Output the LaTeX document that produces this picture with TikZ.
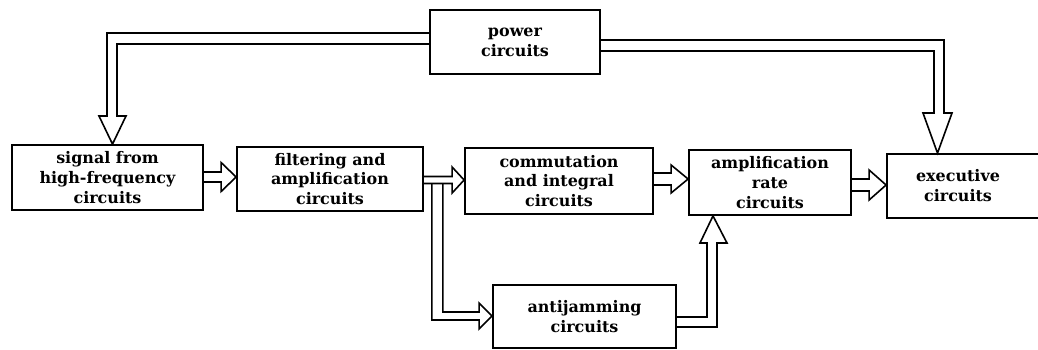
\documentclass[tikz,border=0pt]{standalone}
\usepackage{fontspec}
\setmainfont{DejaVu Serif}
\usetikzlibrary{calc}
\tikzset{
  blk/.style={draw, line width=1.8bp, rectangle, inner sep=0pt, align=center, font=\fontsize{16}{20}\selectfont\bfseries},
  txt/.style={inner sep=0pt, align=center, font=\fontsize{16}{20}\selectfont\bfseries},
  conn/.style={draw, line width=1.6bp, line join=miter},
}
% horizontal hollow block arrow: from, to, y centre, half shaft, head length, half head
\newcommand\hblock[6]{%
  \draw[conn] (#1.east |- 0,#3-#4) -- ($(#2.west |- 0,#3)+(-#5,-#4)$) -- ($(#2.west |- 0,#3)+(-#5,-#6)$)
    -- (#2.west |- 0,#3) -- ($(#2.west |- 0,#3)+(-#5,#6)$) -- ($(#2.west |- 0,#3)+(-#5,#4)$) -- (#1.east |- 0,#3+#4);
}
\begin{document}
\begin{tikzpicture}[x=1bp,y=-1bp]
\useasboundingbox (0,0) rectangle (1038,349);
\fill[white] (0,0) rectangle (1038,349);
\clip (0,0) rectangle (1038,349);

\node[blk, minimum width=170bp, minimum height=64bp] (pow) at (515,42) {power\\circuits};
\node[blk, minimum width=191bp, minimum height=65bp] (sig) at (107.5,177.5) {signal from\\high-frequency\\circuits};
\node[blk, minimum width=186bp, minimum height=64bp] (fil) at (330,179) {filtering and\\amplification\\circuits};
\node[blk, minimum width=188bp, minimum height=66bp] (com) at (559,181) {commutation\\and integral\\circuits};
\node[blk, minimum width=162bp, minimum height=65bp] (amp) at (770,182.5) {amplification\\rate\\circuits};
\node[blk, minimum width=158bp, minimum height=64bp] (exe) at (966,186) {};
\node[txt] (exetxt) at (958,186) {executive\\circuits};
\node[blk, minimum width=183bp, minimum height=63bp] (anti) at (584.5,316.5) {antijamming\\circuits};

% horizontal arrows
\hblock{sig}{fil}{177}{5}{15}{14.5}
\hblock{fil}{com}{180}{3.5}{12}{13}
\hblock{com}{amp}{179}{6}{17}{14}
\hblock{amp}{exe}{185}{6}{17}{15}

% branch to antijamming
\draw[conn] ($(fil.east |- 0,183.5)+(8,0)$) -- ($(fil.east |- 0,320)+(8,0)$)
  -- ($(anti.west |- 0,316)+(-13,4)$) -- ($(anti.west |- 0,316)+(-13,13)$) -- (anti.west |- 0,316)
  -- ($(anti.west |- 0,316)+(-13,-13)$) -- ($(anti.west |- 0,316)+(-13,-4)$)
  -- ($(fil.east |- 0,312)+(19,0)$) -- ($(fil.east |- 0,183.5)+(19,0)$);

% antijamming to amplification rate
\draw[conn] (anti.east |- 0,317) -- (707,317) -- (707,243) -- (700,243) -- (amp.south -| 713,0)
  -- (727,243) -- (717,243) -- (717,327) -- (anti.east |- 0,327);

% power to signal
\draw[conn] (pow.west |- 0,33) -- (107,33) -- (107,116) -- (99,116) -- (sig.north -| 112.5,0)
  -- (126,116) -- (117,116) -- (117,44) -- (pow.west |- 0,44);

% power to executive
\draw[conn] (pow.east |- 0,40) -- (944,40) -- (944,113) -- (952,113) -- (exe.north -| 937.5,0)
  -- (923,113) -- (934,113) -- (934,51) -- (pow.east |- 0,51);
\end{tikzpicture}
\end{document}
